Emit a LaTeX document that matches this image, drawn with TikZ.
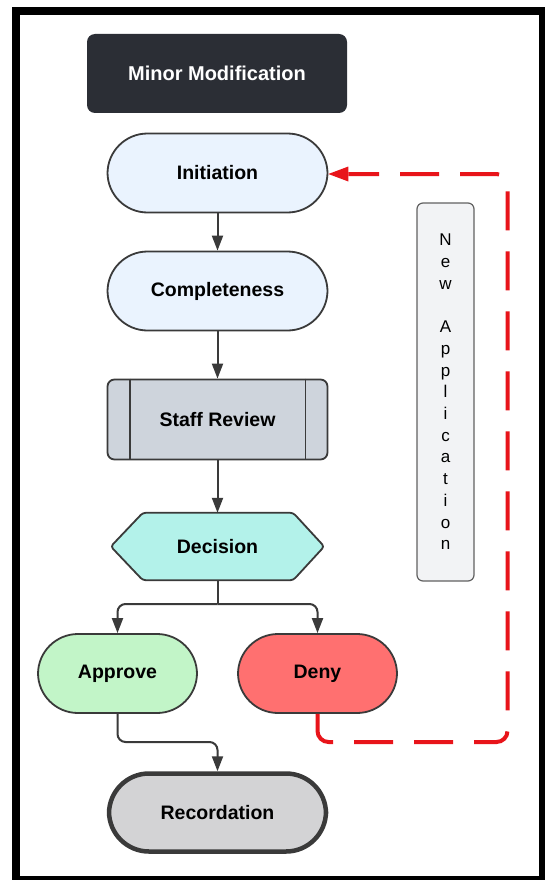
\documentclass[tikz,border=0pt]{standalone}
\usepackage{fontspec}
\setmainfont{Liberation Sans}
\usetikzlibrary{arrows.meta}
\definecolor{darkbox}{HTML}{2B2E35}
\definecolor{lightblue}{HTML}{EAF3FE}
\definecolor{staffgray}{HTML}{CED4DC}
\definecolor{decteal}{HTML}{B3F2EA}
\definecolor{appgreen}{HTML}{C2F5C8}
\definecolor{denyred}{HTML}{FF7070}
\definecolor{recgray}{HTML}{D3D3D5}
\definecolor{notegray}{HTML}{F2F3F5}
\definecolor{linegray}{HTML}{3A3A3A}
\definecolor{dashred}{HTML}{E8141A}
\begin{document}
\begin{tikzpicture}[x=1pt,y=-1pt,
  lbl/.style={font=\fontsize{19.5}{22}\selectfont\bfseries, text=black, inner sep=0pt},
  titlebox/.style={lbl, font=\fontsize{20}{22}\selectfont\bfseries, fill=darkbox, text=white, rounded corners=8pt, minimum width=260pt, minimum height=79pt},
  stadium/.style={lbl, draw=linegray, line width=1.8pt, rounded corners=40pt, minimum width=220pt, minimum height=79pt},
  smallstadium/.style={stadium, minimum width=159pt},
  procbox/.style={lbl, draw=linegray, line width=1.8pt, fill=staffgray, rounded corners=7pt, minimum width=220pt, minimum height=80pt},
  hexnode/.style={lbl, minimum width=213pt, minimum height=67pt},
  notebox/.style={draw=linegray!80, line width=1.2pt, fill=notegray, rounded corners=6pt, minimum width=57pt, minimum height=378pt, align=center, inner sep=0pt, font=\fontsize{17}{21.7}\selectfont},
  conn/.style={draw=linegray, line width=2pt, rounded corners=8pt},
  tip/.style={-{Triangle[length=15pt,width=11pt]}},
  redconn/.style={draw=dashred, line width=4pt, dash pattern=on 39pt off 21pt, rounded corners=11pt, -{Triangle[length=20pt,width=15pt,line width=0pt]}}
]
\useasboundingbox (0,0) rectangle (545,880);
\fill[white] (0,0) rectangle (545,880);
\draw[line width=8pt] (15.5,11) rectangle (543,880);

\node[titlebox] (mm) at (217,73.5) {Minor Modification};
\node[stadium, fill=lightblue] (init) at (217.5,173) {Initiation};
\node[stadium, fill=lightblue] (comp) at (217.5,291) {Completeness};
\node[procbox] (staff) at (217.5,419.5) {Staff Review};
\draw[linegray, line width=1.8pt] ([xshift=23pt]staff.north west) -- ([xshift=23pt]staff.south west);
\draw[linegray, line width=1.8pt] ([xshift=-23pt]staff.north east) -- ([xshift=-23pt]staff.south east);

\node[hexnode] (dec) at (217.5,546.5) {};
\filldraw[draw=linegray, line width=1.8pt, fill=decteal, rounded corners=3pt]
  (dec.west) -- ([xshift=32pt]dec.north west) -- ([xshift=-31pt]dec.north east)
  -- (dec.east) -- ([xshift=-31pt]dec.south east) -- ([xshift=32pt]dec.south west) -- cycle;
\node[lbl] (dectext) at (dec.center) {Decision};

\node[smallstadium, fill=appgreen] (app) at (117.5,673.5) {Approve};
\node[smallstadium, fill=denyred] (deny) at (317.5,673.5) {Deny};
\node[stadium, fill=recgray, line width=4.5pt, minimum width=217pt, minimum height=78pt] (rec) at (217.5,812.5) {Recordation};

\node[notebox] (newapp) at (445.5,392) {N\\e\\w\\\mbox{}\\A\\p\\p\\l\\i\\c\\a\\t\\i\\o\\n};

\coordinate (split) at (217.5,604);
\coordinate (amid) at (117.5,742);
\coordinate (dmid) at (317.5,742);
\coordinate (rcorner) at (507.5,742);
\coordinate (tcorner) at (507.5,174);

\draw[conn, tip] (init.south) -- (comp.north);
\draw[conn, tip] (comp.south) -- (staff.north);
\draw[conn, tip] (staff.south) -- (dec.north);
\draw[conn] (dec.south) -- (split);
\draw[conn, tip] (split) -| (app.north);
\draw[conn, tip] (split) -| (deny.north);
\draw[conn, tip] (app.south) -- (amid) -| (rec.north);
\draw[redconn] (deny.south) -- (dmid) -- (rcorner) -- (tcorner) -- (init.east |- tcorner);
\end{tikzpicture}
\end{document}
